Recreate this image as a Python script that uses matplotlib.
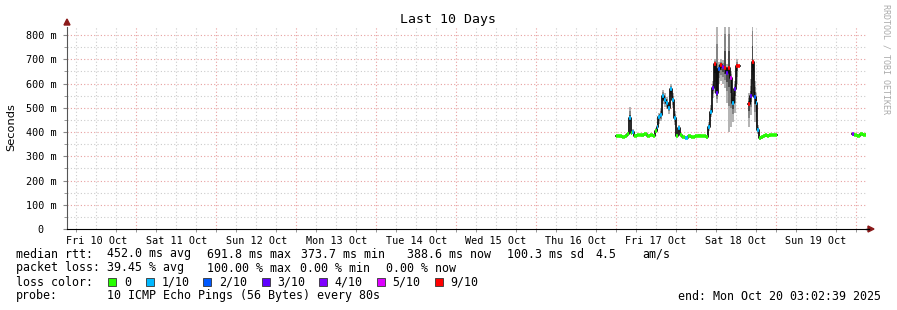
import numpy as np
import matplotlib
matplotlib.use("Agg")
from matplotlib import pyplot as plt
from matplotlib.patches import Rectangle, Polygon

# ---------- data (hours after Fri 17 Oct 00:00) ----------
t_hours = [0.0, 0.9, 1.8, 2.7, 3.3, 3.9, 4.5, 4.8, 5.4, 6.3, 7.5, 8.4, 9.3, 10.2, 11.1,
           11.7, 12.3, 12.75, 13.2, 13.8, 14.4, 15.0, 15.6, 16.2, 16.8, 17.4, 18.0, 18.6,
           19.2, 19.8, 20.7, 21.6, 22.5, 23.7, 24.6, 25.5, 26.4, 27.0, 27.6, 28.2, 28.8,
           29.55, 30.0, 30.6, 31.2, 31.8, 32.4, 33.0, 33.6, 34.2, 34.8, 35.4, 36.0, 36.6,
           37.2, 39.75, 40.35, 40.8, 41.25, 41.55, 42.0, 42.45, 42.9, 43.5, 44.1, 44.7,
           45.3, 45.9, 46.5, 47.1, 47.7, 48.3,
           70.8, 71.4, 72.3, 73.2, 74.1, 75.0, 75.45]
median_ms = [383, 382, 380, 385, 390, 457, 395, 401, 385, 388, 386, 390, 384, 387, 383,
             405, 420, 460, 470, 548, 532, 520, 500, 576, 532, 458, 383, 416,
             387, 380, 377, 382, 380, 383, 385, 383, 384, 378, 422, 484, 580,
             680, 560, 660, 676, 670, 662, 645, 665, 621, 521, 576, 672, 674,
             np.nan, 515, 548, 690, 690, 546, 521, 408, 374, 378, 384, 386,
             383, 386, 387, 388, 388, np.nan,
             390, 388, 385, 390, 388, 390, np.nan]
loss = [0, 0, 0, 0, 0, 1, 0, 1, 0, 0, 0, 0, 0, 0, 0,
        0, 1, 1, 1, 1, 1, 1, 1, 1, 1, 1, 0, 1,
        0, 0, 1, 0, 0, 0, 0, 0, 0, 0, 1, 1, 3,
        9, 3, 2, 9, 4, 9, 3, 9, 5, 1, 3, 9, 9,
        10, 9, 3, 9, 9, 2, 1, 1, 0, 0, 0, 0,
        0, 0, 0, 0, 0, 10,
        4, 0, 0, 0, 0, 0, 10]
smoke_min = [378, 377, 375, 380, 385, 440, 388, 392, 380, 383, 381, 385, 379, 382, 378,
             395, 400, 435, 445, 515, 505, 495, 475, 545, 500, 430, 378, 400,
             382, 375, 372, 377, 375, 378, 380, 378, 379, 373, 405, 460, 540,
             560, 520, 600, 610, 600, 580, 520, 400, 420, 440, 480, 600, 600,
             np.nan, 420, 470, 600, 560, 440, 420, 390, 369, 373, 379, 381,
             378, 381, 382, 383, 383, np.nan,
             385, 383, 380, 385, 383, 385, np.nan]
smoke_max = [388, 387, 385, 390, 395, 503, 405, 412, 390, 393, 391, 395, 389, 392, 388,
             415, 440, 480, 500, 575, 560, 545, 525, 600, 560, 485, 388, 430,
             392, 385, 384, 387, 385, 388, 390, 388, 389, 383, 440, 510, 610,
             700, 900, 690, 700, 695, 900, 680, 900, 650, 560, 610, 700, 900,
             np.nan, 560, 620, 900, 700, 610, 560, 430, 380, 383, 389, 391,
             388, 391, 392, 393, 393, np.nan,
             395, 393, 390, 395, 393, 395, np.nan]

loss_colors = {0: '#26ff00', 1: '#00b8ff', 2: '#0059ff', 3: '#5e00ff',
               4: '#7e00ff', 5: '#dd00ff', 9: '#ff0000'}
loss_labels = ['0', '1/10', '2/10', '3/10', '4/10', '5/10', '9/10']
day_labels = ['Fri 10 Oct', 'Sat 11 Oct', 'Sun 12 Oct', 'Mon 13 Oct', 'Tue 14 Oct',
              'Wed 15 Oct', 'Thu 16 Oct', 'Fri 17 Oct', 'Sat 18 Oct', 'Sun 19 Oct']

W, H = 897, 310
MONO = 'DejaVu Sans Mono'


def fx(x):
    return x / W


def fy(y):
    return 1 - y / H


fig = plt.figure(figsize=(W / 100, H / 100), dpi=100)
ax = fig.add_axes([fx(66.5), fy(229), (866 - 66.5) / W, 202 / H])

# x in hours since Fri 10 Oct 00:00
x = np.array(t_hours) + 7 * 24
med = np.array(median_ms, dtype=float)
smin = np.array(smoke_min, dtype=float)
smax = np.array(smoke_max, dtype=float)
x_left = 3 + 2 / 60 + 39 / 3600
x_right = x_left + 240

# ---------- grid ----------
for h in np.arange(0, 250, 6):
    if x_left < h < x_right:
        col = '#e8a0a0' if h % 24 == 0 else '#cccccc'
        ax.axvline(h, color=col, lw=0.8, ls=(0, (1, 2)), zorder=0)
for v in range(50, 850, 50):
    col = '#e8a0a0' if v % 100 == 0 else '#cccccc'
    ax.axhline(v, color=col, lw=0.8, ls=(0, (1, 2)), zorder=0)

# ---------- smoke ----------
for frac, col in [(1.0, '#b4b4b4'), (0.6, '#858585'), (0.3, '#4a4a4a')]:
    lo = med - frac * (med - smin)
    hi = med + frac * (smax - med)
    ax.fill_between(x, lo, hi, step='post', color=col, lw=0, zorder=2)

# ---------- median + loss colour ----------
ax.step(x, med, where='post', color='black', lw=1.2, zorder=3)
for i in range(len(x) - 1):
    if np.isnan(med[i]) or loss[i] not in loss_colors:
        continue
    ax.hlines(med[i], x[i], x[i + 1], color=loss_colors[loss[i]], lw=2.6, zorder=4)

ax.set_xlim(x_left, x_right)
ax.set_ylim(0, 833)

# ---------- axes / ticks ----------
for s in ['top', 'right']:
    ax.spines[s].set_visible(False)
ax.spines['left'].set_color('#555555')
ax.spines['bottom'].set_color('black')

ax.set_yticks(range(0, 900, 100))
ax.set_yticklabels(['0  '] + [f'{v} m' for v in range(100, 900, 100)],
                   fontfamily=MONO, fontsize=7.3)
ax.set_yticks(range(50, 850, 100), minor=True)

ax.set_xticks([d * 24 + 12 for d in range(10)])
ax.set_xticklabels(day_labels, fontfamily=MONO, fontsize=7.3)
ax.set_xticks([h for h in range(6, 244, 6) if x_left < h < x_right and h % 24 != 12], minor=True)
ax.tick_params(axis='x', which='major', length=0, pad=5)
ax.tick_params(axis='x', which='minor', length=2, color='#888888')
ax.tick_params(axis='y', which='major', length=3, color='#888888', pad=4)
ax.tick_params(axis='y', which='minor', length=2, color='#888888')

# axis arrows
fig.add_artist(Polygon([[fx(64), fy(25)], [fx(70), fy(25)], [fx(67), fy(19)]],
                       closed=True, color='#8b1a1a', transform=fig.transFigure))
fig.add_artist(Polygon([[fx(868), fy(226)], [fx(868), fy(232)], [fx(874), fy(229)]],
                       closed=True, color='#8b1a1a', transform=fig.transFigure))
fig.add_artist(plt.Line2D([fx(866), fx(869)], [fy(229), fy(229)], color='black', lw=1,
                          transform=fig.transFigure))

# ---------- texts ----------
fig.text(fx(448), fy(19), 'Last 10 Days', ha='center', va='center', fontfamily=MONO, fontsize=9.5)
fig.text(fx(11), fy(127), 'Seconds', ha='center', va='center', rotation=90, fontsize=8.2)
fig.text(fx(886), fy(59), 'RRDTOOL / TOBI OETIKER', ha='center', va='center', rotation=270,
         fontfamily=MONO, fontsize=6.0, color='#aaaaaa')

fs = 8.4
rows = [
    (254, [(16, 'median rtt:'), (107, '452.0 ms avg'), (206.7, '691.8 ms max'),
           (300.7, '373.7 ms min'), (407.3, '388.6 ms now'), (507.3, '100.3 ms sd'),
           (595, '4.5'), (642.7, 'am/s')]),
    (268, [(16, 'packet loss:'), (107, '39.45 % avg'), (206.7, '100.00 % max'),
           (300, '0.00 % min'), (386, '0.00 % now')]),
    (282, [(16, 'loss color:')]),
    (296, [(16, 'probe:'), (107, '10 ICMP Echo Pings (56 Bytes) every 80s')]),
]
for y, pieces in rows:
    for xp, s in pieces:
        fig.text(fx(xp), fy(y), s, ha='left', va='center', fontfamily=MONO, fontsize=fs)

sq_x = [108.3, 145.7, 203.3, 261.7, 319.3, 376.7, 435]
for xp, key, lab in zip(sq_x, loss_colors, loss_labels):
    fig.add_artist(Rectangle((fx(xp), fy(286)), 8 / W, 8 / H, facecolor=loss_colors[key],
                             edgecolor='#333333', lw=0.6, transform=fig.transFigure))
    fig.text(fx(xp + 15.5), fy(282), lab, ha='left', va='center', fontfamily=MONO, fontsize=fs)

fig.text(fx(881), fy(296), 'end: Mon Oct 20 03:02:39 2025', ha='right', va='center',
         fontfamily=MONO, fontsize=fs)

fig.savefig('out.png', dpi=100, facecolor='white')
